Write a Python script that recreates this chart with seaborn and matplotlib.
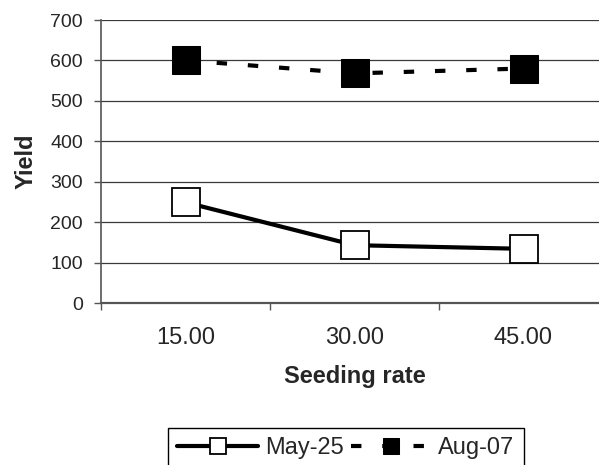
import matplotlib
matplotlib.use("Agg")
import matplotlib.pyplot as plt
import pandas as pd
import seaborn as sns
from matplotlib.ticker import FixedLocator

# data
seeding_rates = ["15.00", "30.00", "45.00"]
may_25 = [249, 143, 134]
aug_07 = [600, 568, 580]
y_ticks = [0, 100, 200, 300, 400, 500, 600, 700]

sns.set_style("white")
plt.rcParams["font.family"] = ["Liberation Sans", "DejaVu Sans"]

df = pd.DataFrame({
    "Seeding rate": seeding_rates * 2,
    "Yield": may_25 + aug_07,
    "Date": ["May-25"] * 3 + ["Aug-07"] * 3,
})

fig = plt.figure(figsize=(5.99, 4.65), dpi=100)
# plot area runs past the right edge of the picture, as in the original
ax = fig.add_axes([101 / 599, 162 / 465, 507 / 599, 283 / 465])

for y in y_ticks[1:]:
    ax.axhline(y, color="#3a3a3a", lw=0.9, zorder=0)

sns.lineplot(
    data=df[df["Date"] == "May-25"], x="Seeding rate", y="Yield",
    color="black", lw=3, marker="s", markersize=20,
    markerfacecolor="white", markeredgecolor="black", markeredgewidth=1.3,
    label="May-25", ax=ax, legend=False,
)
sns.lineplot(
    data=df[df["Date"] == "Aug-07"], x="Seeding rate", y="Yield",
    color="black", lw=3, marker="s", markersize=20,
    markerfacecolor="black", markeredgecolor="black",
    label="Aug-07", ax=ax, legend=False,
)
ax.lines[-1].set_dashes((2.5, 5))
ax.lines[-1].set_dash_capstyle("butt")

ax.set_xlim(-0.5, 2.5)
ax.set_ylim(0, 700)
ax.set_yticks(y_ticks)
ax.xaxis.set_minor_locator(FixedLocator([-0.5, 0.5, 1.5, 2.5]))
ax.tick_params(axis="x", which="major", length=0, pad=17, labelsize=17)
ax.tick_params(axis="x", which="minor", length=5, width=1, color="#555555", direction="out")
ax.tick_params(axis="y", length=5, width=1, color="#555555", direction="out", pad=8, labelsize=14)
ax.tick_params(bottom=True, left=True, which="both")

for side in ["top", "right"]:
    ax.spines[side].set_visible(False)
ax.spines["left"].set_color("#555555")
ax.spines["left"].set_linewidth(1.2)
ax.spines["bottom"].set_color("#555555")
ax.spines["bottom"].set_linewidth(1.6)

ax.set_xlabel("Seeding rate", fontsize=17, fontweight="bold", labelpad=12)
ax.set_ylabel("Yield", fontsize=17, fontweight="bold", labelpad=9)

handles = ax.lines[-2:]
leg = fig.legend(
    handles, ["May-25", "Aug-07"], loc="upper left",
    bbox_to_anchor=(168 / 599, 1 - 428 / 465), ncol=2,
    frameon=True, fancybox=False, edgecolor="black", framealpha=1,
    handlelength=3.4, handletextpad=0.3, columnspacing=0.3,
    borderpad=0.4, borderaxespad=0, markerscale=0.6, fontsize=17,
)
leg.get_frame().set_linewidth(1)

plt.savefig("out.png", dpi=100)
